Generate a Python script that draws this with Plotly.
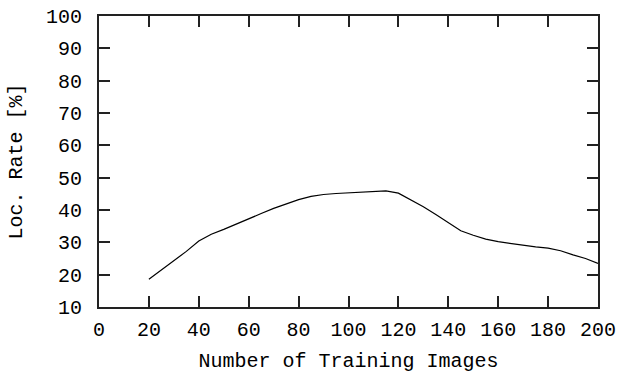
import plotly.graph_objects as go

num_images = [20, 25, 30, 35, 40, 45, 50, 55, 60, 65, 70, 75, 80, 85, 90, 95, 100,
              105, 110, 115, 120, 125, 130, 135, 140, 145, 150, 155, 160, 165, 170,
              175, 180, 185, 190, 195, 200]
loc_rate = [18.6, 21.5, 24.5, 27.2, 30.4, 32.5, 34.0, 35.7, 37.4, 38.9, 40.5, 41.9,
            43.2, 44.2, 44.8, 45.1, 45.3, 45.6, 45.9, 45.9, 45.2, 43.2, 41.0, 38.6,
            36.2, 33.6, 32.2, 31.0, 30.2, 29.6, 29.1, 28.6, 28.2, 27.4, 26.1, 25.0, 23.5]

x_ticks = [0, 20, 40, 60, 80, 100, 120, 140, 160, 180, 200]
y_ticks = [10, 20, 30, 40, 50, 60, 70, 80, 90, 100]

font = dict(family="Liberation Mono, DejaVu Sans Mono, monospace", size=20, color="#000")

fig = go.Figure(go.Scatter(x=num_images, y=loc_rate, mode="lines",
                           line=dict(color="#000", width=1.2)))

axis_common = dict(showgrid=False, zeroline=False, showline=True, linecolor="#222",
                   linewidth=2, mirror="ticks", ticks="inside", ticklen=11,
                   tickwidth=2, tickcolor="#222", tickfont=font, automargin=False,
                   ticklabeloverflow="allow")

fig.update_xaxes(range=[0, 200], tickvals=x_ticks, ticklabelstandoff=3,
                 title=dict(text="Number of Training Images", font=font, standoff=12),
                 **axis_common)
fig.update_yaxes(range=[10, 100], tickvals=y_ticks, ticklabelstandoff=11,
                 title=dict(text="Loc. Rate [%]", font=font, standoff=18),
                 **axis_common)

fig.update_layout(width=619, height=376, margin=dict(l=99, r=21, t=16, b=69),
                  paper_bgcolor="white", plot_bgcolor="white", showlegend=False)

# remove the default 8px page margin so the figure fills the window exactly
fig.write_html("out.html",
               config={"displayModeBar": False},
               post_script="document.body.style.margin='0';"
                           "document.body.style.overflow='hidden';")
